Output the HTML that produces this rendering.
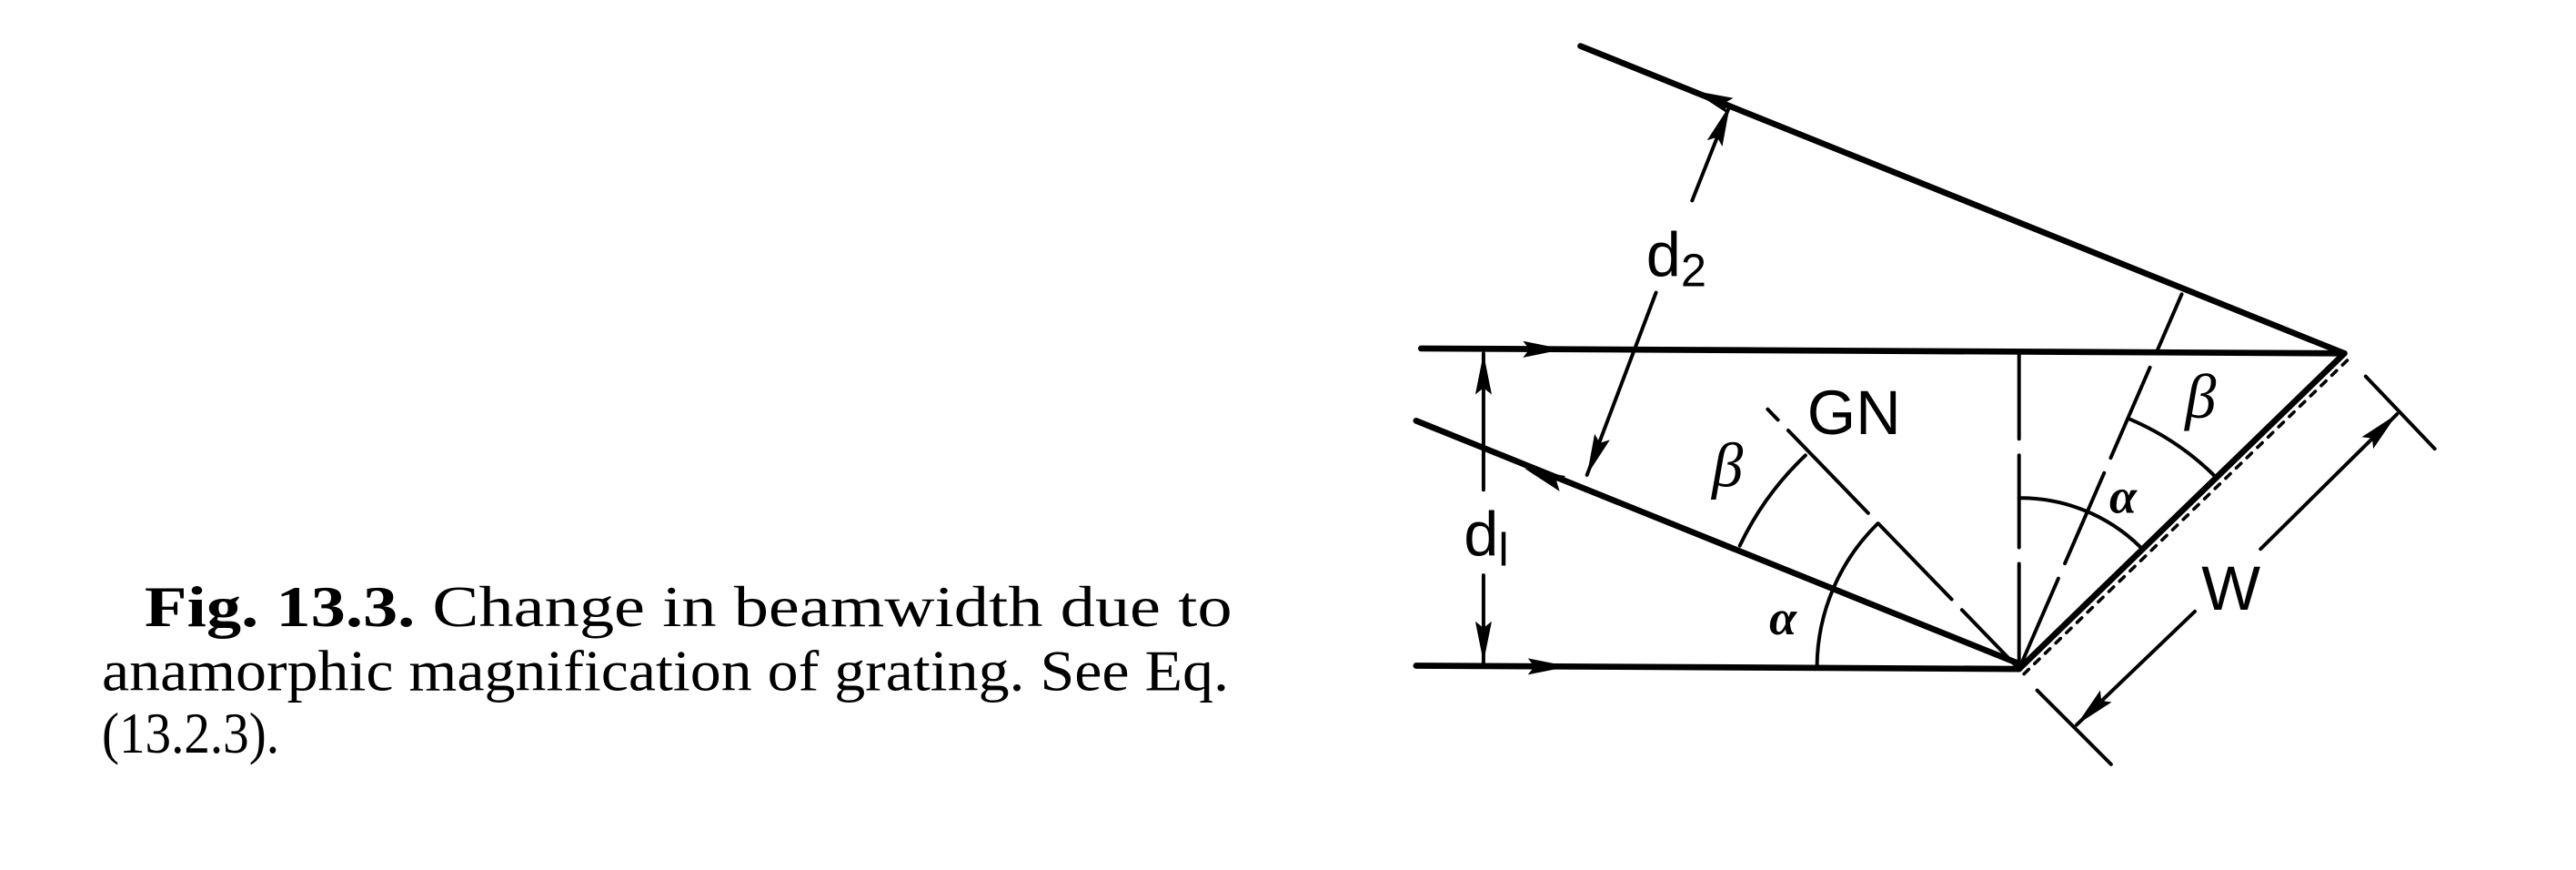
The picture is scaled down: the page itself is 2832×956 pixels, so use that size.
<!DOCTYPE html>
<html><head><meta charset="utf-8"><style>
html,body{margin:0;padding:0;background:#fff;}
svg{display:block;}
</style></head><body>
<svg width="2832" height="956" viewBox="0 0 1568 529.3" preserveAspectRatio="none" xmlns="http://www.w3.org/2000/svg">
<g font-family="Liberation Serif, serif" font-size="35" fill="#000">
<text x="88" y="381" textLength="662" lengthAdjust="spacingAndGlyphs"><tspan font-weight="bold">Fig. 13.3.</tspan> Change in beamwidth due to</text>
<text x="62" y="420" textLength="686" lengthAdjust="spacingAndGlyphs">anamorphic magnification of grating. See Eq.</text>
<text x="62" y="458" textLength="108" lengthAdjust="spacingAndGlyphs">(13.2.3).</text>
</g>
<g stroke="#000" fill="none" stroke-linecap="round">
<line x1="962" y1="28" x2="1427" y2="215" stroke-width="3.7"/>
<line x1="865" y1="212" x2="1427" y2="215" stroke-width="3.7"/>
<line x1="862" y1="405" x2="1229" y2="407" stroke-width="3.7"/>
<line x1="862" y1="256" x2="1227" y2="403" stroke-width="3.7"/>
<line x1="1229" y1="407" x2="1427" y2="215" stroke-width="3.7"/>
<line x1="1232" y1="410" x2="1429" y2="219" stroke-width="2" stroke-dasharray="4 5"/>
<line x1="903" y1="215" x2="903" y2="298" stroke-width="2.2"/>
<line x1="903" y1="350" x2="903" y2="403" stroke-width="2.2"/>
<line x1="1053" y1="64" x2="1030" y2="122" stroke-width="2.2"/>
<line x1="1008" y1="178" x2="966" y2="289" stroke-width="2.2"/>
<line x1="1264" y1="441" x2="1336" y2="372" stroke-width="2.2"/>
<line x1="1376" y1="334" x2="1459" y2="252" stroke-width="2.2"/>
<line x1="1440" y1="229" x2="1482" y2="273" stroke-width="2.2"/>
<line x1="1240" y1="420" x2="1285" y2="465" stroke-width="2.2"/>
<g stroke-width="2.2">
<line x1="1229" y1="407" x2="1076" y2="249" stroke-dasharray="50 9 64 9 70 9"/>
<line x1="1229" y1="405" x2="1229" y2="215" stroke-dasharray="62 10 56 10 60"/>
<line x1="1229" y1="407" x2="1328" y2="179" stroke-dasharray="60 10 60 10 60 10 60"/>
</g>
<g stroke-width="2.2">
<path d="M1106,405 A123,123 0 0 1 1143,318.5"/>
<path d="M1099,277 A185,185 0 0 0 1059,332"/>
<path d="M1229,303 A104,104 0 0 1 1303,333"/>
<path d="M1295.7,254.7 A166,166 0 0 1 1348.3,289.8"/>
</g>
</g>
<g id="arr" fill="#000"></g>
<g font-family="Liberation Sans, sans-serif" font-size="38" fill="#000">
<text x="1100" y="264">GN</text>
<text x="1002" y="168">d<tspan font-size="28" dy="6">2</tspan></text>
<text x="891" y="338">d<tspan font-size="28" dy="6">l</tspan></text>
<text x="1340" y="371">W</text>
</g>
<g font-family="Liberation Serif, serif" font-style="italic" fill="#000">
<text x="1042" y="296" font-size="38">β</text>
<text x="1330" y="254" font-size="38">β</text>
<text x="1077" y="386" font-size="30" font-weight="bold">α</text>
<text x="1284" y="312" font-size="30" font-weight="bold">α</text>
</g>
</svg>
<script>
var g=document.getElementById('arr');
function A(x,y,dx,dy){var L=25,w=5,px=-dy,py=dx;
var bx=x-dx*L,by=y-dy*L;
var p=document.createElementNS('http://www.w3.org/2000/svg','polygon');
p.setAttribute('points',x+','+y+' '+(bx+px*w)+','+(by+py*w)+' '+(bx+dx*4)+','+(by+dy*4)+' '+(bx-px*w)+','+(by-py*w));
g.appendChild(p);}
A(952,212.5,1,0);A(955,405.5,1,0);
A(1030,55,-0.928,-0.371);A(928,285,-0.928,-0.371);
A(903,215,0,-1);A(903,403,0,1);
A(1053,64,0.371,-0.928);A(966,289,-0.371,0.928);
A(1459,252,0.716,-0.698);A(1264,441,-0.716,0.698);
</script>
</body></html>
